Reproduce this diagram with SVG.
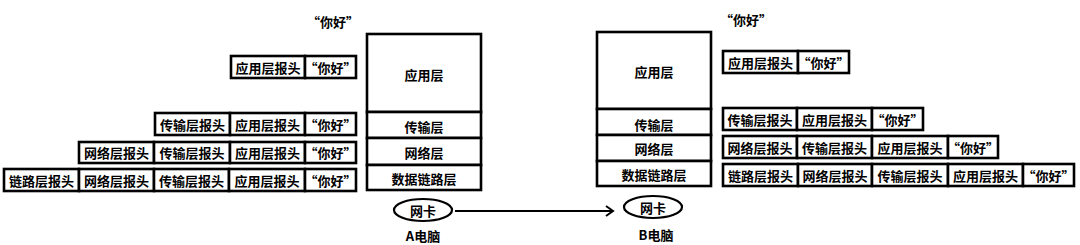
<svg xmlns="http://www.w3.org/2000/svg" width="1080" height="245" viewBox="0 0 1080 245">
<defs>
<style>
.c{fill:#fff;stroke:#000;stroke-width:2.6}
.t{font-family:"Noto Sans CJK SC","Noto Sans",sans-serif;font-weight:bold;font-size:13px;fill:#000;text-anchor:middle;dominant-baseline:central}
.e{fill:#fff;stroke:#000;stroke-width:2.2}
.ln{fill:none;stroke:#000;stroke-width:2}
</style>
<marker id="ah" markerWidth="12" markerHeight="12" refX="10" refY="6" orient="auto" markerUnits="userSpaceOnUse">
<path d="M3,1 L10,6 L3,11" fill="none" stroke="#000" stroke-width="2"/>
</marker>
</defs>
<rect width="1080" height="245" fill="#fff"/>

<g id="left-packets">
<text class="t" x="333" y="21">“你好”</text>
<g id="L1">
<rect class="c" x="231" y="56" width="74" height="22"/><text class="t" x="268" y="67">应用层报头</text>
<rect class="c" x="305" y="56" width="51" height="22"/><text class="t" x="330.5" y="67">“你好”</text>
</g>
<g id="L2">
<rect class="c" x="155" y="113" width="75" height="22"/><text class="t" x="192.5" y="124">传输层报头</text>
<rect class="c" x="230" y="113" width="75" height="22"/><text class="t" x="267.5" y="124">应用层报头</text>
<rect class="c" x="305" y="113" width="51" height="22"/><text class="t" x="330.5" y="124">“你好”</text>
</g>
<g id="L3">
<rect class="c" x="79" y="142" width="75" height="21"/><text class="t" x="116.5" y="152.5">网络层报头</text>
<rect class="c" x="154" y="142" width="76" height="21"/><text class="t" x="192" y="152.5">传输层报头</text>
<rect class="c" x="230" y="142" width="75" height="21"/><text class="t" x="267.5" y="152.5">应用层报头</text>
<rect class="c" x="305" y="142" width="51" height="21"/><text class="t" x="330.5" y="152.5">“你好”</text>
</g>
<g id="L4">
<rect class="c" x="4" y="169" width="75" height="22"/><text class="t" x="41.5" y="180">链路层报头</text>
<rect class="c" x="79" y="169" width="75" height="22"/><text class="t" x="116.5" y="180">网络层报头</text>
<rect class="c" x="154" y="169" width="75" height="22"/><text class="t" x="191.5" y="180">传输层报头</text>
<rect class="c" x="229" y="169" width="76" height="22"/><text class="t" x="267" y="180">应用层报头</text>
<rect class="c" x="305" y="169" width="51" height="22"/><text class="t" x="330.5" y="180">“你好”</text>
</g>
</g>

<g id="stackA">
<rect class="c" x="367" y="34" width="114" height="78"/><text class="t" x="424" y="74">应用层</text>
<rect class="c" x="367" y="112" width="114" height="26"/><text class="t" x="424" y="126">传输层</text>
<rect class="c" x="367" y="138" width="114" height="27"/><text class="t" x="424" y="152">网络层</text>
<rect class="c" x="367" y="165" width="114" height="25"/><text class="t" x="424" y="178">数据链路层</text>
</g>
<g id="nicA">
<ellipse class="e" cx="423" cy="210" rx="29" ry="11"/><text class="t" x="423" y="210">网卡</text>
<text class="t" x="423" y="235">A电脑</text>
</g>

<g id="stackB">
<rect class="c" x="597" y="32" width="114" height="77"/><text class="t" x="654" y="71">应用层</text>
<rect class="c" x="597" y="109" width="114" height="26"/><text class="t" x="654" y="124">传输层</text>
<rect class="c" x="597" y="135" width="114" height="26"/><text class="t" x="654" y="148">网络层</text>
<rect class="c" x="597" y="161" width="114" height="25"/><text class="t" x="654" y="174">数据链路层</text>
</g>
<g id="nicB">
<ellipse class="e" cx="653" cy="207" rx="29" ry="11"/><text class="t" x="653" y="207">网卡</text>
<text class="t" x="656" y="234">B电脑</text>
</g>

<g id="connectors">
<line class="ln" x1="455" y1="211" x2="613" y2="211" marker-end="url(#ah)"/>
</g>

<g id="right-packets">
<text class="t" x="746" y="19">“你好”</text>
<g id="R1">
<rect class="c" x="723" y="51" width="75" height="22"/><text class="t" x="760.5" y="62">应用层报头</text>
<rect class="c" x="798" y="51" width="51" height="22"/><text class="t" x="823.5" y="62">“你好”</text>
</g>
<g id="R2">
<rect class="c" x="723" y="108" width="74" height="22"/><text class="t" x="760" y="119">传输层报头</text>
<rect class="c" x="797" y="108" width="75" height="22"/><text class="t" x="834.5" y="119">应用层报头</text>
<rect class="c" x="872" y="108" width="51" height="22"/><text class="t" x="897.5" y="119">“你好”</text>
</g>
<g id="R3">
<rect class="c" x="723" y="136" width="74" height="22"/><text class="t" x="760" y="147">网络层报头</text>
<rect class="c" x="797" y="136" width="75" height="22"/><text class="t" x="834.5" y="147">传输层报头</text>
<rect class="c" x="872" y="136" width="76" height="22"/><text class="t" x="910" y="147">应用层报头</text>
<rect class="c" x="948" y="136" width="50" height="22"/><text class="t" x="973" y="147">“你好”</text>
</g>
<g id="R4">
<rect class="c" x="723" y="164" width="75" height="22"/><text class="t" x="760.5" y="175">链路层报头</text>
<rect class="c" x="798" y="164" width="74" height="22"/><text class="t" x="835" y="175">网络层报头</text>
<rect class="c" x="872" y="164" width="76" height="22"/><text class="t" x="910" y="175">传输层报头</text>
<rect class="c" x="948" y="164" width="75" height="22"/><text class="t" x="985.5" y="175">应用层报头</text>
<rect class="c" x="1023" y="164" width="51" height="22"/><text class="t" x="1048.5" y="175">“你好”</text>
</g>
</g>
</svg>
